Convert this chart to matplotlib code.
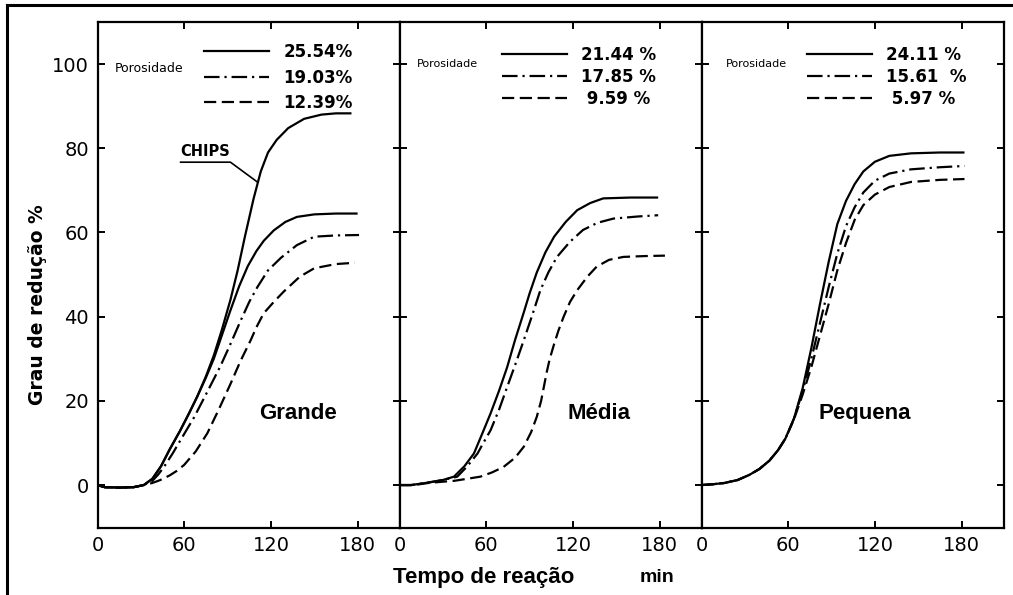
import matplotlib
matplotlib.use("Agg")
import matplotlib.pyplot as plt
from matplotlib.lines import Line2D

# ---------------- data ----------------
panel_names = ["Grande", "Média", "Pequena"]
porosity_labels = [["25.54%", "19.03%", "12.39%"],
                   ["21.44 %", "17.85 %", " 9.59 %"],
                   ["24.11 %", "15.61  %", " 5.97 %"]]

# Grande
g_chips_t = [0, 5, 15, 25, 32, 38, 44, 50, 57, 63, 69, 75, 80.5, 86, 92, 97, 102, 108, 113, 118, 124, 132, 143, 155, 165, 175]
g_chips_v = [0, -0.5, -0.6, -0.5, 0, 1.5, 4.5, 8.5, 12.8, 16.8, 21, 25.8, 30.8, 36.8, 44, 51, 59, 68, 74.5, 79, 82, 84.8, 87, 88, 88.3, 88.3]
g_s_t = [0, 5, 15, 25, 32, 38, 44, 50, 57, 63, 69, 75, 80.5, 86, 92, 98, 104, 110, 115, 122, 130, 138, 150, 165, 180]
g_s_v = [0, -0.5, -0.6, -0.5, 0, 1.5, 4.5, 8.5, 12.8, 16.8, 21, 25.5, 30, 35.5, 41.5, 47.2, 52, 55.6, 58, 60.5, 62.5, 63.7, 64.3, 64.5, 64.5]
g_dd_t = [0, 5, 15, 25, 32, 38, 42, 46, 52, 58, 66.7, 75, 85, 92, 99, 105, 110.6, 118, 127, 138, 150, 165, 181]
g_dd_v = [0, -0.5, -0.6, -0.5, 0, 1, 2.5, 4.3, 7.5, 11, 16, 21.5, 28.2, 33.5, 39, 43.5, 47, 51, 54, 57, 59, 59.3, 59.4]
g_d_t = [0, 5, 15, 25, 32, 38, 43.5, 50, 55, 60, 68, 76, 84, 92, 99, 106, 110, 115, 122, 129, 140, 150, 165, 178]
g_d_v = [0, -0.5, -0.6, -0.5, 0, 0.5, 1.2, 2.3, 3.4, 4.8, 8, 12.3, 18, 24, 29.5, 34.4, 37.5, 40.8, 43.5, 46, 49.5, 51.5, 52.5, 52.8]

# Média
m_s_t = [0, 8, 20, 30, 37.7, 45, 51.5, 57, 63, 69, 74.5, 80, 86, 90, 95, 101, 107, 115, 123, 132, 141, 160, 179]
m_s_v = [0, 0, 0.6, 1.2, 2, 4.5, 7.5, 12, 17, 22.5, 28, 34.5, 41, 45.5, 50.5, 55.3, 59, 62.5, 65.3, 67, 68.1, 68.3, 68.3]
m_dd_t = [0, 8, 20, 30, 40, 47, 54, 58, 63, 69, 74.5, 80, 86, 92, 97.5, 103, 109, 118, 127, 137, 148, 165, 179]
m_dd_v = [0, 0, 0.6, 1.2, 2, 4.5, 7.5, 10, 13, 18, 23.3, 28.5, 34.4, 40.5, 46.3, 50.5, 54.2, 57.8, 60.6, 62.3, 63.3, 63.8, 64.1]
m_d_t = [0, 10, 20, 30, 37.7, 47, 56, 64, 72, 80, 86, 91, 95, 98, 100, 102, 104, 107, 110, 113.6, 118, 123, 130, 136.5, 145, 155, 170, 183.7]
m_d_v = [0, 0, 0.5, 0.8, 1, 1.5, 2, 3, 4.3, 6.5, 9.1, 12.5, 16.2, 20, 23.5, 27, 30, 33.5, 36.7, 40, 43.5, 46.3, 49.5, 51.9, 53.5, 54.2, 54.4, 54.5]

# Pequena
p_t = [0, 8, 16, 25, 33, 40, 47, 53, 58, 64, 70, 76, 82, 88, 94, 100, 106, 112, 120, 130, 145, 165, 182]
p_s_v = [0, 0.2, 0.5, 1.2, 2.4, 3.8, 5.8, 8.3, 11, 15.8, 23, 32.5, 43, 53, 62, 67.5, 71.5, 74.5, 76.8, 78.2, 78.8, 79, 79]
p_dd_v = [0, 0.2, 0.5, 1.2, 2.4, 3.8, 5.8, 8.3, 11, 15.8, 22.3, 30, 38.5, 47, 55, 61.5, 66, 69.5, 72.3, 74, 75, 75.5, 75.8]
p_d_v = [0, 0.2, 0.5, 1.2, 2.4, 3.8, 5.8, 8.3, 11, 15.6, 21.5, 28, 35.5, 43, 51, 57.5, 63, 66.5, 69, 70.8, 72, 72.5, 72.7]

x_ticks = [0, 60, 120, 180]
y_ticks = [0, 20, 40, 60, 80, 100]

# ---------------- styles ----------------
LW = 1.6
SOLID = "-"
DASHDOT = (0, (7, 2.2, 1, 2.2))
DASHED = (0, (5.5, 2.5))
styles = [SOLID, DASHDOT, DASHED]

BOLDF = ["Liberation Sans", "DejaVu Sans"]

W, H = 1013, 595
fig = plt.figure(figsize=(W / 100, H / 100), dpi=100)
fig.patch.set_facecolor("white")

def fx(px):
    return px / W

def fy(py):
    return 1 - py / H

top, bot = 22, 528
lefts = [97.5, 399.5, 701.5]
pw = 302

series = [
    [(g_s_t, g_s_v), (g_dd_t, g_dd_v), (g_d_t, g_d_v)],
    [(m_s_t, m_s_v), (m_dd_t, m_dd_v), (m_d_t, m_d_v)],
    [(p_t, p_s_v), (p_t, p_dd_v), (p_t, p_d_v)],
]
name_pos = [(139, 17), (138, 17), (113, 17)]
poro_pos = [(12, 99), (12, 100), (17, 100)]
poro_size = [9, 8, 8]
leg_anchor = [(0.353, 0.958), (0.339, 0.952), (0.349, 0.952)]
leg_spacing = [0.45, 0.22, 0.22]

axes = []
for i in range(3):
    ax = fig.add_axes([fx(lefts[i]), fy(bot), pw / W, (bot - top) / H])
    axes.append(ax)
    ax.set_xlim(0, 209)
    ax.set_ylim(-10.2, 110)
    for sp in ax.spines.values():
        sp.set_linewidth(1.6)
        sp.set_color("black")
    ax.set_xticks(x_ticks)
    ax.set_yticks(y_ticks)
    ax.tick_params(direction="in", length=5, width=1.4, top=True, right=True,
                   labelsize=14, pad=6, colors="black")
    ax.set_xticklabels([str(t) for t in x_ticks])
    if i == 0:
        ax.set_yticklabels([str(v) for v in y_ticks])
    else:
        ax.tick_params(labelleft=False)

    for (t, v), ls in zip(series[i], styles):
        ax.plot(t, v, color="black", lw=LW, linestyle=ls, solid_capstyle="butt",
                solid_joinstyle="round")

    if i == 0:
        ax.plot(g_chips_t, g_chips_v, color="black", lw=LW, linestyle=SOLID,
                solid_joinstyle="round")

    ax.text(name_pos[i][0], name_pos[i][1], panel_names[i], ha="center", va="center",
            fontsize=16, fontweight="bold", family=BOLDF)
    ax.text(poro_pos[i][0], poro_pos[i][1], "Porosidade", ha="left", va="center",
            fontsize=poro_size[i], family=["DejaVu Sans"])

    handles = [Line2D([], [], color="black", lw=LW, linestyle=ls) for ls in styles]
    ax.legend(handles, porosity_labels[i], loc="upper left", bbox_to_anchor=leg_anchor[i],
              frameon=False, handlelength=3.9, handletextpad=0.85,
              labelspacing=leg_spacing[i], borderpad=0, borderaxespad=0,
              prop={"size": 12, "weight": "bold", "family": "DejaVu Sans"})

# CHIPS annotation
ax0 = axes[0]
ax0.text(57.5, 77.5, "CHIPS", ha="left", va="bottom", fontsize=10.5, fontweight="bold",
         family=["DejaVu Sans"])
ax0.add_line(Line2D([57.5, 92, 110.6], [76.7, 76.7, 72], color="black", lw=1.2))

# axis labels
fig.text(fx(38), fy(305), "Grau de redução %", rotation=90, ha="center", va="center",
         fontsize=13.5, fontweight="bold", family=["DejaVu Sans"])
fig.text(fx(484), fy(577), "Tempo de reação", ha="center", va="center",
         fontsize=16, fontweight="bold", family=BOLDF)
fig.text(fx(657), fy(577), "min", ha="center", va="center",
         fontsize=14, fontweight="bold", family=BOLDF)

# outer frame (top and left)
fig.add_artist(Line2D([fx(7), 1.0], [fy(5), fy(5)], color="black", lw=2.2))
fig.add_artist(Line2D([fx(7), fx(7)], [fy(5), 0.0], color="black", lw=2.2))

fig.savefig("out.png", dpi=100, facecolor="white")
